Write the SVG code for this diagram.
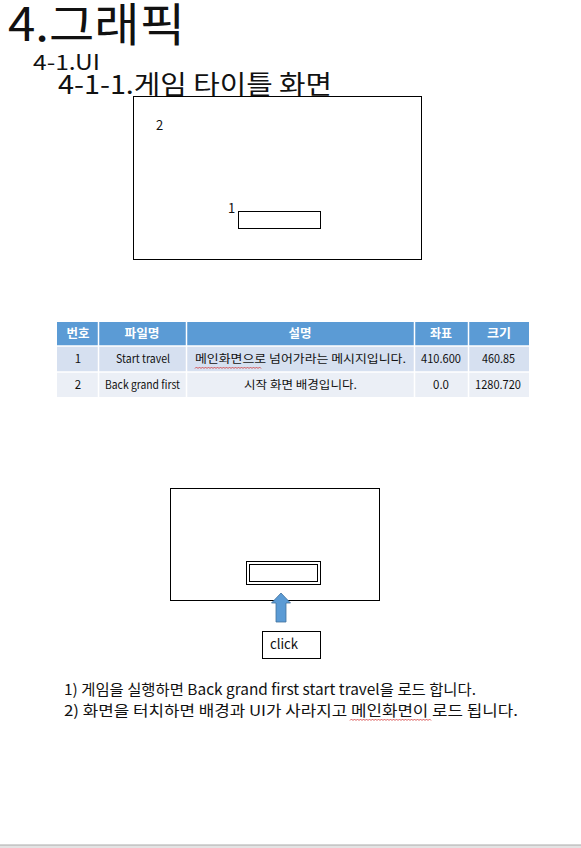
<svg xmlns="http://www.w3.org/2000/svg" width="581" height="848" viewBox="0 0 581 848">
<style>
.t{font-family:"Noto Sans CJK KR","Noto Sans",sans-serif;fill:#111}
.c{font-family:"Noto Sans CJK KR","Noto Sans",sans-serif;font-size:11.5px;fill:#111;text-anchor:middle}
.h{font-family:"Noto Sans CJK KR","Noto Sans",sans-serif;font-size:12.5px;font-weight:bold;fill:#fff;text-anchor:middle}
.box{fill:#fff;stroke:#000;stroke-width:1}
.sq{fill:none;stroke:#d03030;stroke-width:0.8}
</style>
<rect x="0" y="0" width="581" height="848" fill="#fff"/>
<g id="titles">
<text class="t" x="8" y="41" font-size="46" textLength="177" lengthAdjust="spacingAndGlyphs">4.그래픽</text>
<text class="t" x="33" y="70" font-size="21" fill="#333" textLength="67" lengthAdjust="spacingAndGlyphs">4-1.UI</text>
<text class="t" x="58" y="94" font-size="26" textLength="274" lengthAdjust="spacingAndGlyphs">4-1-1.게임 타이틀 화면</text>
</g>
<g id="screen1">
<rect class="box" x="133.5" y="96.5" width="288" height="163"/>
<rect class="box" x="238.5" y="211.5" width="82" height="17"/>
<text class="t" x="156" y="130" font-size="13">2</text>
<text class="t" x="228" y="213" font-size="13">1</text>
</g>
<g id="table">
<rect x="57" y="322" width="472" height="24" fill="#5B9BD5"/>
<rect x="57" y="346" width="472" height="26" fill="#D6E0F0"/>
<rect x="57" y="372" width="472" height="25" fill="#EBEFF6"/>
<g stroke="#fff" stroke-width="1.5">
<line x1="57" y1="346" x2="529" y2="346"/>
<line x1="57" y1="372" x2="529" y2="372"/>
<line x1="98.5" y1="322" x2="98.5" y2="397"/>
<line x1="186.5" y1="322" x2="186.5" y2="397"/>
<line x1="414.5" y1="322" x2="414.5" y2="397"/>
<line x1="468.5" y1="322" x2="468.5" y2="397"/>
</g>
<text class="h" x="78" y="338" textLength="23" lengthAdjust="spacingAndGlyphs">번호</text>
<text class="h" x="142" y="338" textLength="35" lengthAdjust="spacingAndGlyphs">파일명</text>
<text class="h" x="300" y="338" textLength="23" lengthAdjust="spacingAndGlyphs">설명</text>
<text class="h" x="441" y="338" textLength="22" lengthAdjust="spacingAndGlyphs">좌표</text>
<text class="h" x="499" y="338" textLength="24" lengthAdjust="spacingAndGlyphs">크기</text>
<text class="c" x="78" y="363">1</text>
<text class="c" x="143" y="363" textLength="54" lengthAdjust="spacingAndGlyphs">Start travel</text>
<text class="c" x="300.5" y="363" textLength="211" lengthAdjust="spacingAndGlyphs">메인화면으로 넘어가라는 메시지입니다.</text>
<text class="c" x="441" y="363" textLength="40" lengthAdjust="spacingAndGlyphs">410.600</text>
<text class="c" x="498.5" y="363" textLength="33" lengthAdjust="spacingAndGlyphs">460.85</text>
<text class="c" x="78" y="389">2</text>
<text class="c" x="142.5" y="389" textLength="75" lengthAdjust="spacingAndGlyphs">Back grand first</text>
<text class="c" x="300.5" y="389" textLength="113" lengthAdjust="spacingAndGlyphs">시작 화면 배경입니다.</text>
<text class="c" x="441" y="389" textLength="16" lengthAdjust="spacingAndGlyphs">0.0</text>
<text class="c" x="498" y="389" textLength="46" lengthAdjust="spacingAndGlyphs">1280.720</text>
<path class="sq" d="M195 368.5 l1.5 -1.5 l1.5 1.5 l1.5 -1.5 l1.5 1.5 l1.5 -1.5 l1.5 1.5 l1.5 -1.5 l1.5 1.5 l1.5 -1.5 l1.5 1.5 l1.5 -1.5 l1.5 1.5 l1.5 -1.5 l1.5 1.5 l1.5 -1.5 l1.5 1.5 l1.5 -1.5 l1.5 1.5 l1.5 -1.5 l1.5 1.5 l1.5 -1.5 l1.5 1.5 l1.5 -1.5 l1.5 1.5 l1.5 -1.5 l1.5 1.5 l1.5 -1.5 l1.5 1.5 l1.5 -1.5 l1.5 1.5 l1.5 -1.5 l1.5 1.5 l1.5 -1.5 l1.5 1.5 l1.5 -1.5 l1.5 1.5 l1.5 -1.5 l1.5 1.5 l1.5 -1.5 l1.5 1.5 l1.5 -1.5 l1.5 1.5 l1.5 -1.5 l1.5 1.5"/>
</g>
<g id="screen2">
<rect class="box" x="170.5" y="488.5" width="209" height="112"/>
<rect class="box" x="246.5" y="561.5" width="74" height="23"/>
<rect class="box" x="249.5" y="564.5" width="68" height="17"/>
</g>
<g id="connectors">
<path d="M281 593 L290.5 603 L286 603 L286 622 L276 622 L276 603 L271.5 603 Z" fill="#5B9BD5" stroke="#41719C" stroke-width="0.8"/>
</g>
<g id="click">
<rect class="box" x="262.5" y="631.5" width="58" height="27"/>
<text class="t" x="270" y="649" font-size="13.5" textLength="28" lengthAdjust="spacingAndGlyphs">click</text>
</g>
<g id="notes">
<text class="t" x="64" y="695" font-size="15" textLength="412" lengthAdjust="spacingAndGlyphs">1) 게임을 실행하면 Back grand first start travel을 로드 합니다.</text>
<text class="t" x="64" y="716" font-size="15" textLength="454" lengthAdjust="spacingAndGlyphs">2) 화면을 터치하면 배경과 UI가 사라지고 메인화면이 로드 됩니다.</text>
<path class="sq" d="M350 720.5 l1.5 -1.5 l1.5 1.5 l1.5 -1.5 l1.5 1.5 l1.5 -1.5 l1.5 1.5 l1.5 -1.5 l1.5 1.5 l1.5 -1.5 l1.5 1.5 l1.5 -1.5 l1.5 1.5 l1.5 -1.5 l1.5 1.5 l1.5 -1.5 l1.5 1.5 l1.5 -1.5 l1.5 1.5 l1.5 -1.5 l1.5 1.5 l1.5 -1.5 l1.5 1.5 l1.5 -1.5 l1.5 1.5 l1.5 -1.5 l1.5 1.5 l1.5 -1.5 l1.5 1.5 l1.5 -1.5 l1.5 1.5 l1.5 -1.5 l1.5 1.5 l1.5 -1.5 l1.5 1.5 l1.5 -1.5 l1.5 1.5 l1.5 -1.5 l1.5 1.5 l1.5 -1.5 l1.5 1.5 l1.5 -1.5 l1.5 1.5 l1.5 -1.5 l1.5 1.5 l1.5 -1.5 l1.5 1.5 l1.5 -1.5 l1.5 1.5 l1.5 -1.5 l1.5 1.5 l1.5 -1.5 l1.5 1.5 l1.5 -1.5 l1.5 1.5"/>
</g>
<rect x="0" y="845" width="581" height="3" fill="#e4e4e4"/>
<line x1="0" y1="845" x2="581" y2="845" stroke="#aaa" stroke-width="1"/>
</svg>
